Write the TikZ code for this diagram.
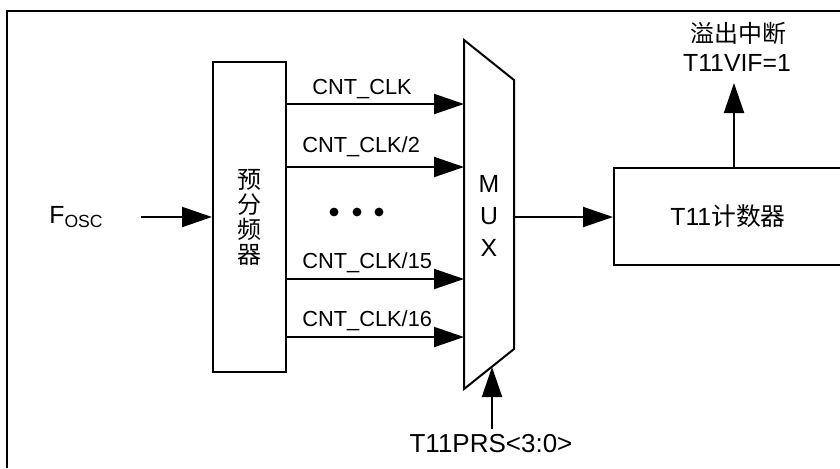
\documentclass[tikz,border=0pt]{standalone}
\usepackage{fontspec}
\setmainfont{Liberation Sans}
\newfontfamily\cjk{Noto Sans CJK SC}
\usetikzlibrary{arrows.meta}
\tikzset{
    >={Triangle[length=15pt,width=10pt]},
    blk/.style={draw,line width=1pt,inner sep=0pt},
    sig/.style={->,line width=1pt},
    lbl/.style={anchor=base west,inner sep=0pt},
    txt/.style={inner sep=0pt}
}
\newcommand{\smallsz}{\fontsize{10.9}{13}\selectfont}
\newcommand{\bigsz}{\fontsize{12.4}{14}\selectfont}

\begin{document}
\begin{tikzpicture}[x=0.5pt,y=-0.5pt,font=\smallsz]
    \useasboundingbox (0,0) rectangle (840,468);
    \draw[line width=1pt] (7,468) -- (7,11) -- (840,11);

    % prescaler
    \node[blk,minimum width=36.5pt,minimum height=155pt,align=center,
          font={\fontsize{12}{12.5}\selectfont\cjk}] (pre) at (249.5,217) {预\\分\\频\\器};
    \node[txt,font=\bigsz] (fosc) at (76,217) {F\raisebox{-0.3ex}{\fontsize{8.8}{9}\selectfont OSC}};
    \coordinate (fin) at (141,217);
    \draw[sig] (fin) -- (pre.west |- fin);

    % mux
    \coordinate (mtl) at (464,40);
    \coordinate (mtr) at (514,80);
    \coordinate (mbr) at (514,349);
    \coordinate (mbl) at (464,389);
    \draw[line width=1pt,line join=miter] (mtl) -- (mtr) -- (mbr) -- (mbl) -- cycle;
    \node[txt,align=center,font={\fontsize{12.4}{15.8}\selectfont}] (mux) at (489,216) {M\\U\\X};

    \foreach \y/\n in {104/1,167/2,279/3,337/4}{
        \coordinate (in\n) at (464,\y);
        \draw[sig] (pre.east |- in\n) -- (in\n);
    }
    \node[lbl] (clk1) at (312,94) {CNT\_CLK};
    \node[lbl] (clk2) at (302,152) {CNT\_CLK/2};
    \node[lbl] (clk15) at (302,268) {CNT\_CLK/15};
    \node[lbl] (clk16) at (302,326) {CNT\_CLK/16};
    \foreach \x in {334,357,379} \fill (\x,212) circle (2.2pt);

    \node[txt,font=\fontsize{13}{14}\selectfont] (prs) at (491,444) {T11PRS<3:0>};
    \coordinate (selin) at (492,429);
    \coordinate (sel) at (492,367);
    \draw[sig] (selin) -- (sel);

    % counter
    \node[draw,line width=0.75pt,minimum width=120pt,minimum height=48.5pt,inner sep=0pt,
          anchor=west] (cnt) at (613,216.5) {};
    \node[txt,font=\bigsz] (cntx) at (728,216.5) {T11{\cjk 计数器}};
    \coordinate (mo) at (514,217);
    \draw[sig] (mo) -- (cnt.west |- mo);
    \coordinate (ovf) at (734,83);
    \draw[sig] (cnt.north -| ovf) -- (ovf);
    \node[txt,font=\bigsz] (vif) at (737,63) {T11VIF=1};
    \node[txt,font={\fontsize{12}{13}\selectfont\cjk}] (irq) at (738,33) {溢出中断};
\end{tikzpicture}
\end{document}
